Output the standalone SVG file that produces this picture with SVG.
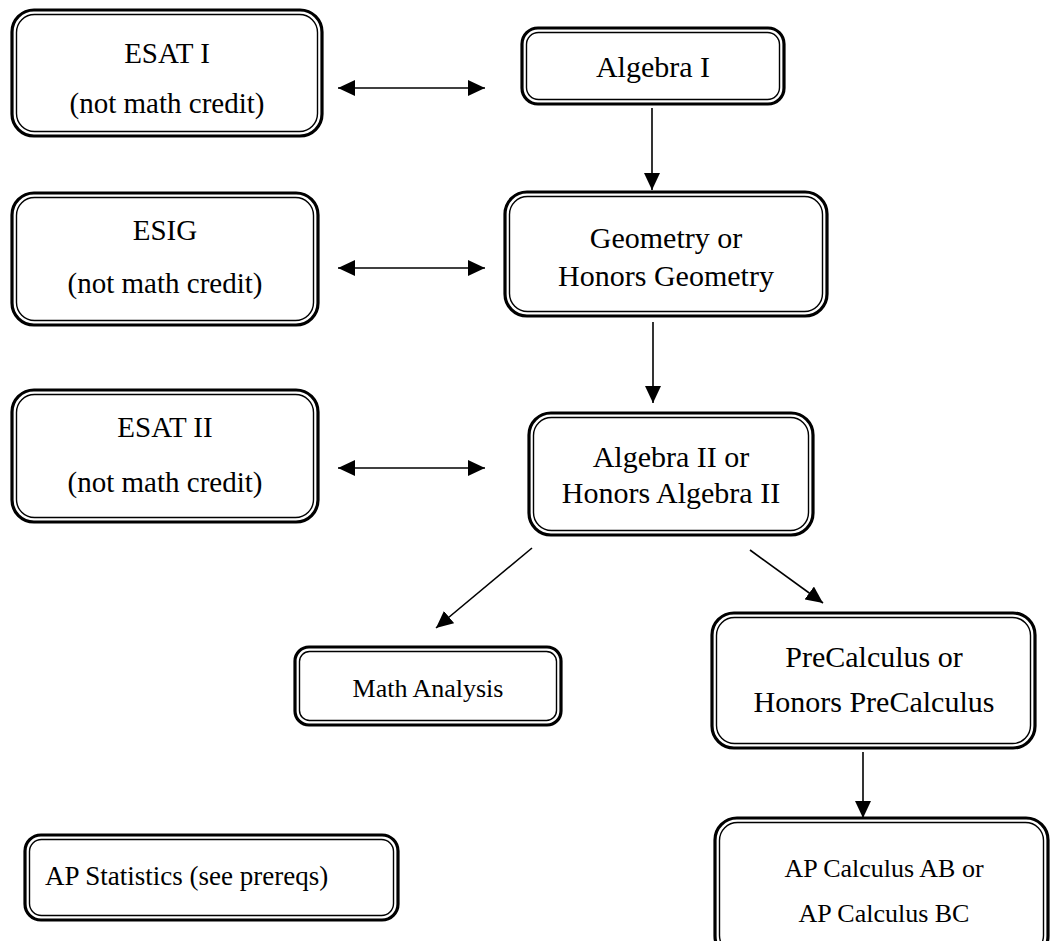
<svg xmlns="http://www.w3.org/2000/svg" width="1051" height="941" viewBox="0 0 1051 941">
<style>
.o{fill:#fff;stroke:#000;stroke-width:3.2}
.i{fill:none;stroke:#000;stroke-width:1.4}
text{font-family:"Liberation Serif","Times New Roman",serif;fill:#000}
.c{text-anchor:middle}
.s{font-size:29px}
.b{font-size:30px}
.e{stroke:#000;stroke-width:1.6;fill:none}
</style>
<defs>
<marker id="ah" markerUnits="userSpaceOnUse" markerWidth="18" markerHeight="16" refX="17" refY="8" orient="auto-start-reverse">
<path d="M0,0 L17,8 L0,16 Z" fill="#000"/>
</marker>
</defs>
<rect width="1051" height="941" fill="#fff"/>
<g id="connectors">
<line class="e" x1="338" y1="88" x2="485" y2="88" marker-start="url(#ah)" marker-end="url(#ah)"/>
<line class="e" x1="338" y1="268" x2="485" y2="268" marker-start="url(#ah)" marker-end="url(#ah)"/>
<line class="e" x1="338" y1="468" x2="485" y2="468" marker-start="url(#ah)" marker-end="url(#ah)"/>
<line class="e" x1="652" y1="108" x2="652" y2="190" marker-end="url(#ah)"/>
<line class="e" x1="653" y1="322" x2="653" y2="403" marker-end="url(#ah)"/>
<line class="e" x1="532" y1="548" x2="436" y2="628" marker-end="url(#ah)"/>
<line class="e" x1="750" y1="550" x2="823" y2="603" marker-end="url(#ah)"/>
<line class="e" x1="863" y1="752" x2="863" y2="818" marker-end="url(#ah)"/>
</g>
<g id="esat1">
<rect class="o" x="12" y="10" width="310" height="126" rx="22"/>
<rect class="i" x="16.5" y="14.5" width="301" height="117" rx="18"/>
<text class="c s" x="167" y="63">ESAT I</text>
<text class="c s" x="167" y="113">(not math credit)</text>
</g>
<g id="algebra1">
<rect class="o" x="522" y="28" width="262" height="76" rx="16"/>
<rect class="i" x="526.5" y="32.5" width="253" height="67" rx="12"/>
<text class="c b" x="653" y="77">Algebra I</text>
</g>
<g id="esig">
<rect class="o" x="12" y="193" width="306" height="132" rx="22"/>
<rect class="i" x="16.5" y="197.5" width="297" height="123" rx="18"/>
<text class="c s" x="165" y="240">ESIG</text>
<text class="c s" x="165" y="293">(not math credit)</text>
</g>
<g id="geometry">
<rect class="o" x="505" y="192" width="322" height="124" rx="22"/>
<rect class="i" x="509.5" y="196.5" width="313" height="115" rx="18"/>
<text class="c b" x="666" y="248">Geometry or</text>
<text class="c b" x="666" y="286">Honors Geometry</text>
</g>
<g id="esat2">
<rect class="o" x="12" y="390" width="306" height="132" rx="22"/>
<rect class="i" x="16.5" y="394.5" width="297" height="123" rx="18"/>
<text class="c s" x="165" y="437">ESAT II</text>
<text class="c s" x="165" y="492">(not math credit)</text>
</g>
<g id="algebra2">
<rect class="o" x="529" y="413" width="284" height="122" rx="22"/>
<rect class="i" x="533.5" y="417.5" width="275" height="113" rx="18"/>
<text class="c b" x="671" y="467">Algebra II or</text>
<text class="c b" x="671" y="503">Honors Algebra II</text>
</g>
<g id="mathanalysis">
<rect class="o" x="295" y="647" width="266" height="78" rx="14"/>
<rect class="i" x="299.5" y="651.5" width="257" height="69" rx="10"/>
<text class="c" x="428" y="697" style="font-size:26px">Math Analysis</text>
</g>
<g id="precalc">
<rect class="o" x="712" y="613" width="323" height="135" rx="22"/>
<rect class="i" x="716.5" y="617.5" width="314" height="126" rx="18"/>
<text class="c b" x="874" y="667">PreCalculus or</text>
<text class="c b" x="874" y="712">Honors PreCalculus</text>
</g>
<g id="apcalc">
<rect class="o" x="715" y="818" width="333" height="140" rx="22"/>
<rect class="i" x="719.5" y="822.5" width="324" height="131" rx="18"/>
<text class="c" x="884" y="877" style="font-size:26px">AP Calculus AB or</text>
<text class="c" x="884" y="922" style="font-size:26px">AP Calculus BC</text>
</g>
<g id="apstats">
<rect class="o" x="25" y="835" width="373" height="85" rx="16"/>
<rect class="i" x="29.5" y="839.5" width="364" height="76" rx="12"/>
<text x="45" y="885" style="font-size:27px">AP Statistics (see prereqs)</text>
</g>
</svg>
